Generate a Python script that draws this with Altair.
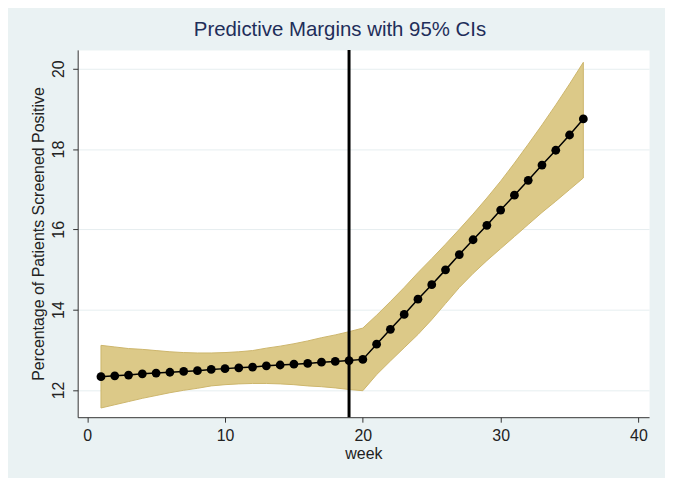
import altair as alt
import pandas as pd

weeks = [1, 2, 3, 4, 5, 6, 7, 8, 9, 10, 11, 12, 13, 14, 15, 16, 17, 18,
         19, 20, 21, 22, 23, 24, 25, 26, 27, 28, 29, 30, 31, 32, 33, 34, 35, 36]

margin = [12.33, 12.35, 12.37, 12.40, 12.42, 12.44, 12.46, 12.48, 12.51, 12.53,
          12.55, 12.57, 12.60, 12.62, 12.64, 12.66, 12.69, 12.71, 12.73, 12.76,
          13.14, 13.51, 13.88, 14.26, 14.62, 14.99, 15.37, 15.74, 16.10, 16.48,
          16.85, 17.22, 17.60, 17.97, 18.35, 18.75]

upper = [13.11, 13.07, 13.03, 13.01, 12.98, 12.95, 12.93, 12.92, 12.92, 12.93,
         12.95, 12.98, 13.04, 13.09, 13.15, 13.22, 13.30, 13.37, 13.45, 13.54,
         13.86, 14.20, 14.55, 14.92, 15.27, 15.63, 16.00, 16.38, 16.78, 17.20,
         17.65, 18.12, 18.60, 19.10, 19.62, 20.16]

lower = [11.55, 11.63, 11.71, 11.79, 11.86, 11.93, 11.99, 12.04, 12.10, 12.13,
         12.15, 12.16, 12.16, 12.15, 12.13, 12.10, 12.08, 12.05, 12.01, 11.98,
         12.38, 12.72, 13.05, 13.38, 13.75, 14.15, 14.55, 14.90, 15.22, 15.52,
         15.82, 16.12, 16.42, 16.70, 16.99, 17.28]

cutoff_week = [19]

x_ticks = [0, 10, 20, 30, 40]
y_ticks = [12, 14, 16, 18, 20]

df = pd.DataFrame({"week": weeks, "margin": margin, "lower": lower, "upper": upper})
cut = pd.DataFrame({"week": cutoff_week})

FONT = "Liberation Sans"

xscale = alt.Scale(domain=[-0.69, 40.77], nice=False, zero=False)
yscale = alt.Scale(domain=[11.32, 20.47], nice=False, zero=False)

xenc = alt.X("week:Q", scale=xscale,
             axis=alt.Axis(values=x_ticks, title="week", grid=False,
                           labelPadding=5, titlePadding=2, format="d"))
yaxis = alt.Axis(values=y_ticks, title="Percentage of Patients Screened Positive",
                 grid=True, gridColor="#E6EEF0", gridWidth=1,
                 labelAngle=-90, labelPadding=6, titlePadding=4, format="d")

band = alt.Chart(df).mark_area(
    color="#DCC988", stroke="#CDB56C", strokeWidth=1, opacity=1
).encode(
    x=xenc,
    y=alt.Y("lower:Q", scale=yscale, axis=yaxis),
    y2="upper:Q",
)

rule = alt.Chart(cut).mark_rule(color="black", strokeWidth=3).encode(
    x=alt.X("week:Q", scale=xscale)
)

line = alt.Chart(df).mark_line(color="black", strokeWidth=1.5).encode(
    x=alt.X("week:Q", scale=xscale),
    y=alt.Y("margin:Q", scale=yscale),
)

points = alt.Chart(df).mark_circle(color="black", size=78, opacity=1).encode(
    x=alt.X("week:Q", scale=xscale),
    y=alt.Y("margin:Q", scale=yscale),
)

chart = alt.layer(band, rule, line, points).properties(
    width=574,
    height=369,
    autosize=alt.AutoSizeParams(type="none"),
    padding={"left": 70, "top": 41, "right": 16, "bottom": 60},
    background="#EAF2F3",
    title=alt.TitleParams(
        "Predictive Margins with 95% CIs",
        fontSize=20.5, font=FONT, fontWeight="normal", color="#1F2E5A",
        anchor="middle", frame="bounds", offset=8,
    ),
).configure_view(
    fill="white", stroke="transparent"
).configure_axis(
    domainColor="#333333", tickColor="#333333", tickSize=5,
    labelColor="#222222", titleColor="#222222",
    labelFont=FONT, titleFont=FONT, labelFontSize=16, titleFontSize=16,
    titleFontWeight="normal",
)

chart.save("out.html", embed_options={"renderer": "svg", "actions": False})
